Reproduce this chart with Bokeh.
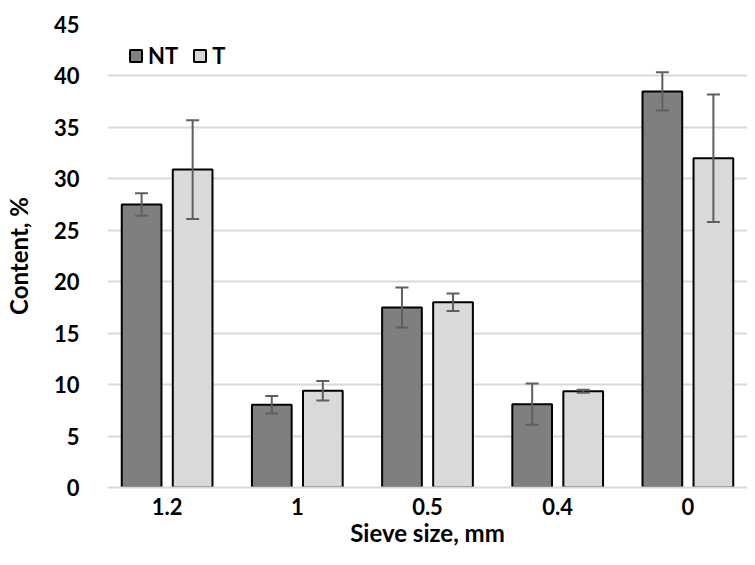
from bokeh.plotting import figure
from bokeh.models import ColumnDataSource, FactorRange, Whisker, Legend, LegendItem, SingleIntervalTicker, Range1d
from bokeh.transform import dodge
from bokeh.embed import file_html
from bokeh.resources import INLINE

categories = ["1.2", "1", "0.5", "0.4", "0"]
nt_values = [27.5, 8.05, 17.5, 8.1, 38.5]
nt_errors = [1.1, 0.85, 1.95, 2.0, 1.85]
t_values = [30.9, 9.4, 18.0, 9.35, 32.0]
t_errors = [4.8, 0.95, 0.85, 0.15, 6.2]

src = ColumnDataSource(dict(
    cat=categories,
    nt=nt_values,
    nt_lo=[v - e for v, e in zip(nt_values, nt_errors)],
    nt_hi=[v + e for v, e in zip(nt_values, nt_errors)],
    t=t_values,
    t_lo=[v - e for v, e in zip(t_values, t_errors)],
    t_hi=[v + e for v, e in zip(t_values, t_errors)],
))

FONT = "Lato"

xr = FactorRange(*categories, range_padding=-0.042, range_padding_units="absolute")
p = figure(width=747, height=549, x_range=xr, y_range=Range1d(0, 45),
           output_backend="svg", toolbar_location=None,
           min_border_left=103, min_border_right=0, min_border_top=24, min_border_bottom=60)
p.outline_line_color = None
p.background_fill_color = "white"

off = 0.196
bw = 0.305
r_nt = p.vbar(x=dodge("cat", -off, range=p.x_range), top="nt", width=bw, source=src,
              fill_color="#7f7f7f", line_color="black", line_width=2)
r_t = p.vbar(x=dodge("cat", off, range=p.x_range), top="t", width=bw, source=src,
             fill_color="#d9d9d9", line_color="black", line_width=2)

for base, lo, hi in [(-off, "nt_lo", "nt_hi"), (off, "t_lo", "t_hi")]:
    w = Whisker(base=dodge("cat", base, range=p.x_range), lower=lo, upper=hi, source=src,
                line_color="#5f5f5f", line_width=2, level="overlay")
    for h in (w.upper_head, w.lower_head):
        h.size = 13
        h.line_color = "#5f5f5f"
        h.line_width = 2
    p.add_layout(w)

# axes
p.yaxis.ticker = SingleIntervalTicker(interval=5)
p.yaxis.axis_line_color = None
p.yaxis.major_tick_line_color = None
p.yaxis.minor_tick_line_color = None
p.yaxis.major_label_standoff = 22
p.yaxis.axis_label = "Content, %"
p.yaxis.axis_label_standoff = 18

p.xaxis.axis_line_color = "#d9d9d9"
p.xaxis.axis_line_width = 2
p.xaxis.major_tick_line_color = None
p.xaxis.minor_tick_line_color = None
p.xaxis.major_label_standoff = 4
p.xaxis.axis_label = "Sieve size, mm"
p.xaxis.axis_label_standoff = 0

for ax in (p.xaxis[0], p.yaxis[0]):
    ax.major_label_text_font = FONT
    ax.major_label_text_font_style = "bold"
    ax.major_label_text_font_size = "22px"
    ax.major_label_text_color = "black"
    ax.axis_label_text_font = FONT
    ax.axis_label_text_font_style = "bold"
    ax.axis_label_text_font_size = "24px"
    ax.axis_label_text_color = "black"

p.xgrid.grid_line_color = None
p.ygrid.grid_line_color = "#d9d9d9"
p.ygrid.grid_line_width = 2

legend = Legend(items=[LegendItem(label="NT", renderers=[r_nt]), LegendItem(label="T", renderers=[r_t])],
                orientation="horizontal",
                background_fill_alpha=0, border_line_color=None,
                label_text_font=FONT, label_text_font_style="bold", label_text_font_size="22px",
                label_text_color="black",
                glyph_width=15, glyph_height=15, label_standoff=5, spacing=14,
                margin=0, padding=0)
legend.location = (21, 418)
p.add_layout(legend)

open("out.html", "w").write(file_html(p, INLINE))
